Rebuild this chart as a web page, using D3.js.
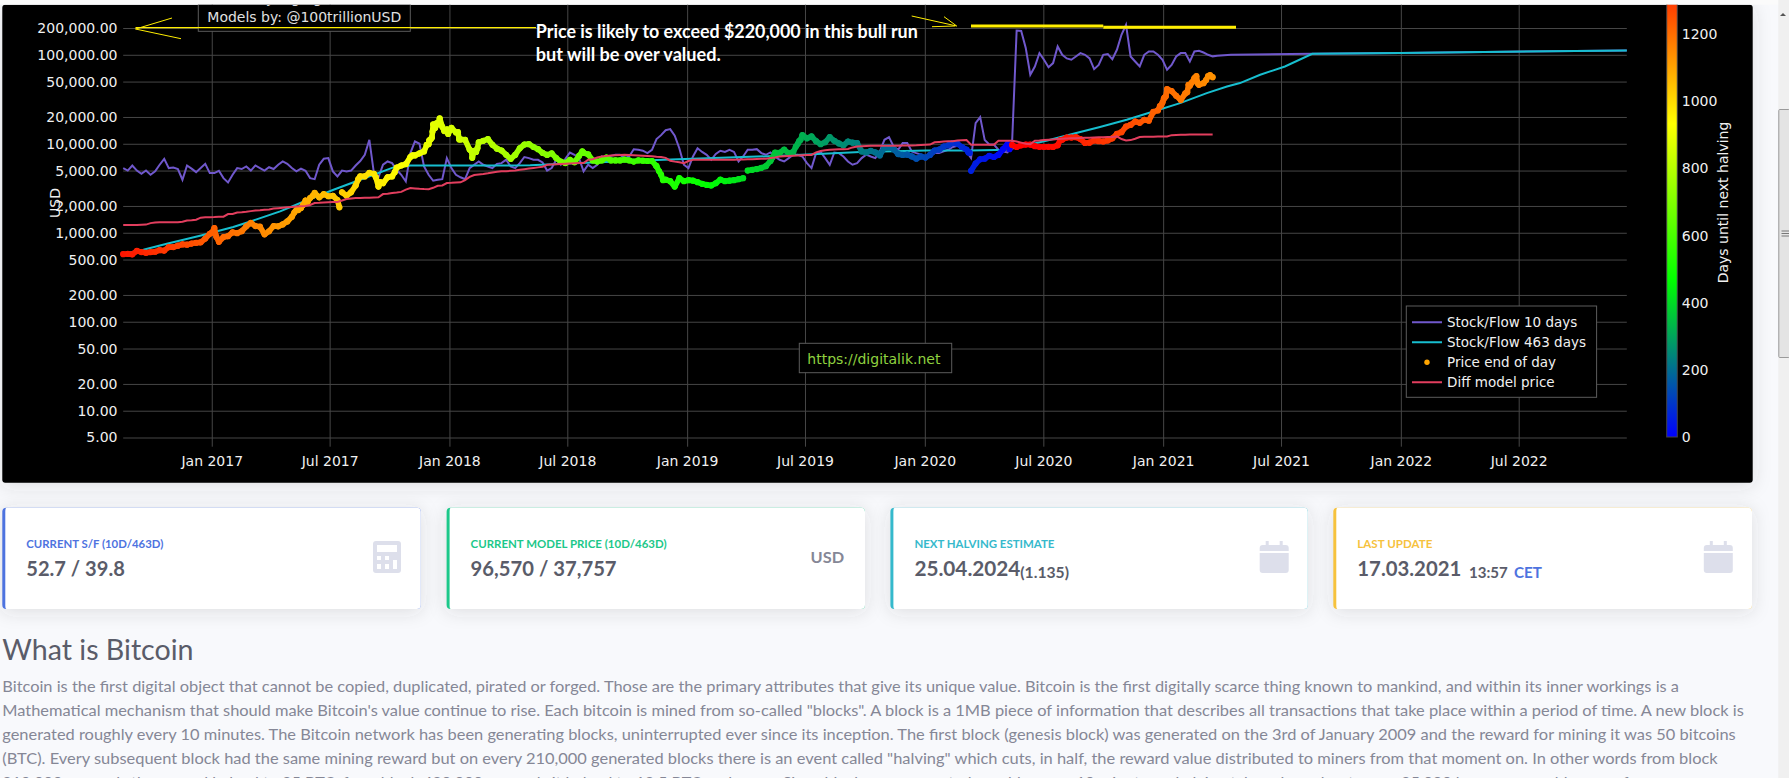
<!DOCTYPE html>
<html>
<head>
<meta charset="utf-8">
<script src="https://cdn.jsdelivr.net/npm/d3@7"></script>
<style>
html, body { margin: 0; padding: 0; background: #f8f9fc; overflow: hidden; }
svg { display: block; }
.chart-axis text { font-family: "DejaVu Sans", sans-serif; font-size: 14px; fill: #f0f0f0; }
.grid line { stroke: #464646; stroke-width: 1px; }
.grid .domain { display: none; }
.page-text { font-family: Lato, "Noto Sans", sans-serif; }
</style>
</head>
<body>
<div id="chart"></div>
<script>
// weekly samples, first one is this date
const weekStart = "2016-08-18";

// price end of day, one value per week (USD)
const priceValues = [
  575, 578, 572, 625, 606, 595, 605, 612, 637, 630,
  690, 690, 715, 740, 735, 755, 770, 780, 860, 975,
  1130, 790, 895, 915, 1010, 990, 1040, 1180, 1290, 1190,
  1170, 960, 1040, 1190, 1180, 1240, 1340, 1510, 1800, 1900,
  2300, 2450, 2800, 2500, 2710, 2570, 2600, 2330, 2850, 2600,
  2850, 3400, 4300, 4300, 4700, 4600, 3300, 3600, 4200, 4300,
  5400, 5700, 5900, 7100, 7400, 7800, 8200, 9900, 16500, 16500,
  15500, 14500, 15100, 13400, 11200, 11100, 8600, 8300, 10400, 10800,
  11300, 9745, 8800, 8400, 7520, 6750, 7500, 8900, 9800, 9900,
  9200, 8700, 7900, 7500, 7800, 6900, 6300, 6060, 6600, 6200,
  7300, 7900, 7600, 6500, 6300, 6500, 7000, 6500, 6500, 6500,
  6650, 6500, 6300, 6500, 6450, 6400, 6400, 5600, 4500, 3950,
  3800, 3300, 4100, 3800, 3900, 3850, 3700, 3550, 3450, 3400,
  3600, 3950, 3800, 3850, 3900, 4000, 4100, 5000, 5100, 5200,
  5350, 5600, 6400, 7950, 7900, 8600, 7800, 8100, 10000, 12500,
  11500, 12100, 10700, 9900, 10400, 11900, 10800, 10100, 9600, 10600,
  10300, 10200, 8200, 8000, 8300, 8000, 7400, 9100, 9200, 8700,
  7650, 7500, 7550, 7200, 6800, 7200, 7000, 7500, 8400, 8600,
  9300, 9600, 10200, 10000, 9200, 8600, 4970, 6000, 6700, 6800,
  7300, 7100, 7500, 8650, 9900, 9700, 9200, 9600, 9800, 9800,
  9400, 9250, 9230, 9250, 9200, 9600, 11100, 11750, 11750, 11850,
  11300, 10200, 10300, 10900, 10700, 10600, 10900, 11500, 12900, 13500,
  15600, 16300, 17800, 17200, 18600, 18200, 22800, 23700, 29000, 41100,
  39100, 34600, 31000, 36800, 44800, 54700, 46000, 48000, 57500, 56000
];

// extra closes where the price moves faster than a week of dots can follow
const priceExtraDates = [
  "2017-01-01", "2017-01-08", "2017-05-08", "2017-05-14", "2017-05-21", "2017-05-28", "2017-06-05",
  "2017-07-16", "2017-08-14", "2017-09-10", "2017-09-17", "2017-10-09", "2017-11-05", "2017-11-27",
  "2017-12-01", "2017-12-03", "2017-12-05", "2017-12-06", "2017-12-10", "2017-12-12", "2017-12-17",
  "2017-12-24", "2017-12-30", "2018-01-14", "2018-01-16", "2018-02-04", "2018-02-05", "2018-02-11",
  "2018-02-13", "2018-07-24", "2018-11-14", "2018-11-19", "2018-11-25", "2019-05-12", "2019-06-17",
  "2019-06-22", "2019-06-24", "2020-03-08", "2020-03-10", "2020-05-10", "2020-07-27", "2020-12-27",
  "2020-12-29", "2021-01-02", "2021-01-03", "2021-01-05", "2021-02-07", "2021-02-09", "2021-02-14",
  "2021-02-21", "2021-02-23", "2021-03-08", "2021-03-14"
];
const priceExtraValues = [
  1000, 900, 1700, 1800, 2050, 2200, 2600,
  1930, 4000, 4200, 3700, 4800, 7400, 9700,
  10900, 11200, 11700, 13700, 15000, 17000, 19300,
  13900, 12900, 13500, 11200, 8200, 6950, 8100,
  8900, 8200, 5700, 4900, 3900, 7000, 9300,
  10700, 11000, 8000, 7900, 8700, 11000, 26500,
  27000, 32000, 33000, 34000, 38000, 46000, 48700,
  57500, 48000, 52000, 59000
];
// the price dots are not joined across these jumps
const priceBreaks = ["2017-07-20", "2019-04-04", "2020-03-12"];

// stock/flow 10 days, same weekly samples
const sf10Values = [
  5330, 5000, 5700, 5000, 4600, 5000, 4480, 4890, 5810, 6780,
  5330, 5400, 5200, 3940, 5700, 5250, 4800, 5330, 5950, 4680,
  4680, 4970, 4110, 3680, 4480, 5330, 5200, 5560, 5000, 5700,
  5330, 5000, 5450, 5200, 5810, 6330, 5950, 5330, 4890, 5250,
  4970, 4110, 4000, 5810, 6780, 6900, 4890, 4290, 5000, 4890,
  5000, 5700, 6400, 7520, 11090, 4680, 4200, 5810, 6330, 6060,
  5100, 4480, 3770, 7850, 10650, 10000, 5560, 4480, 3840, 3940,
  4000, 6900, 5330, 4480, 4200, 4000, 5330, 5810, 6330, 5810,
  5560, 5330, 5950, 6060, 6610, 5560, 5330, 6060, 7100, 6900,
  6610, 6610, 6170, 5000, 5330, 6610, 5810, 6780, 7980, 7520,
  6900, 4890, 5810, 5330, 5810, 7200, 6900, 7320, 7520, 7520,
  6900, 7200, 8680, 8560, 8350, 7850, 8560, 11300, 12500, 14200,
  14600, 12300, 8900, 5810, 5330, 7200, 8900, 8100, 7500, 6610,
  7700, 8350, 8100, 8560, 8100, 6330, 7200, 8560, 8560, 8700,
  7850, 7520, 8000, 7200, 6610, 6330, 6900, 7520, 7520, 7200,
  6060, 5330, 7850, 8100, 6900, 5810, 7980, 7850, 7200, 6330,
  5810, 6060, 6900, 7550, 7200, 6900, 8200, 11090, 11900, 9330,
  8570, 10180, 10180, 8200, 7850, 7550, 6900, 7200, 7850, 7850,
  8200, 8570, 9200, 9500, 9200, 8200, 6900, 17100, 19900, 11000,
  9800, 9800, 8570, 8200, 8000, 10180, 187000, 185000, 119000, 59600,
  73900, 104400, 87900, 72600, 80600, 124000, 100000, 91000, 87900, 95700,
  104400, 100000, 91000, 69000, 77000, 100000, 102000, 89000, 113800, 168000,
  217000, 95700, 84000, 73900, 100000, 109000, 109000, 100000, 87900, 67800,
  77000, 95700, 104400, 104400, 84000, 109000, 111000, 106000, 100000, 96000,
  97500
];
// the forecast part of the 10 day model
const sf10TailDates = ["2021-04-15", "2021-08-18", "2021-12-31", "2022-12-14"];
const sf10TailValues = [100000, 102600, 105000, 111700];

// stock/flow 463 days
const sf463Dates = [
  "2016-08-18", "2016-09-18", "2016-10-24", "2016-12-14", "2017-02-03", "2017-03-06", "2017-04-16",
  "2017-05-17", "2017-07-07", "2017-08-17", "2017-10-07", "2017-11-02", "2018-03-20", "2018-05-05",
  "2018-07-21", "2018-11-26", "2019-05-24", "2019-09-24", "2020-01-04", "2020-03-11", "2020-05-06",
  "2020-07-07", "2020-08-16", "2020-09-26", "2020-11-06", "2020-12-17", "2021-01-27", "2021-03-09",
  "2021-04-09", "2021-04-29", "2021-05-30", "2021-07-07", "2021-08-18", "2021-12-31", "2022-12-14"
];
const sf463Values = [
  582, 645, 752, 925, 1159, 1374, 1737,
  2157, 3040, 3940, 5420, 5700, 5700, 5720,
  6070, 6610, 7330, 8070, 8410, 8410, 8560,
  10890, 12950, 15400, 18600, 23060, 28650, 37100,
  44000, 48100, 59600, 73900, 102600, 105000, 111700
];

// diff model price, same weekly samples
const diffValues = [
  1220, 1220, 1220, 1225, 1230, 1235, 1283, 1300, 1316, 1316,
  1316, 1316, 1316, 1330, 1375, 1385, 1400, 1478, 1490, 1495,
  1500, 1510, 1515, 1620, 1625, 1690, 1700, 1720, 1750, 1775,
  1790, 1810, 1830, 1870, 1890, 1910, 1930, 1950, 1970, 1990,
  2000, 2050, 2157, 2170, 2190, 2200, 2210, 2220, 2300, 2390,
  2420, 2450, 2460, 2470, 2480, 2490, 2500, 2720, 2750, 2790,
  2830, 2880, 3050, 3180, 3150, 3120, 3100, 3090, 3200, 3370,
  3400, 3620, 3640, 3680, 3690, 3900, 4240, 4460, 4520, 4580,
  4660, 4760, 4850, 4900, 4920, 4960, 5000, 5100, 5180, 5260,
  5340, 5430, 5530, 5810, 5850, 5880, 5920, 5960, 6000, 6030,
  6060, 6060, 6610, 6700, 7000, 7200, 7300, 7380, 7450, 7480,
  7520, 7500, 7450, 7400, 7350, 7300, 7250, 7150, 7100, 6950,
  6450, 6300, 6200, 6060, 6400, 6610, 6610, 6610, 6610, 6610,
  6610, 6620, 6630, 6630, 6630, 6640, 6660, 6700, 6720, 6750,
  6780, 6800, 6900, 7000, 7200, 7250, 7300, 7350, 7400, 7450,
  7470, 7500, 8000, 8300, 8450, 8560, 8600, 8650, 8680, 8720,
  9100, 9300, 9400, 9450, 9500, 9500, 9500, 9500, 9500, 9500,
  9520, 9540, 9560, 9580, 9600, 9700, 9750, 9800, 10400, 10500,
  10600, 10650, 10700, 10900, 10950, 11000, 9750, 9750, 9750, 9750,
  9750, 9760, 10800, 10800, 10800, 10800, 10600, 10300, 10000, 9900,
  10800, 10850, 11000, 11100, 11200, 11300, 11400, 11450, 11500, 11550,
  11600, 11650, 11700, 11750, 11800, 11850, 11900, 11950, 12100, 11300,
  10900, 11000, 11400, 11900, 12000, 12000, 12000, 12050, 12050, 12100,
  12500, 12550, 12600, 12650, 12700, 12750, 12750, 12750, 12700, 12700
];

const halvingDates = ["2016-07-09", "2020-05-11", "2024-04-25"];

const yTicks = [5, 10, 20, 50, 100, 200, 500, 1000, 2000, 5000, 10000, 20000, 50000, 100000, 200000];
const xTicks = ["2017-01-01", "2017-07-01", "2018-01-01", "2018-07-01", "2019-01-01", "2019-07-01",
  "2020-01-01", "2020-07-01", "2021-01-01", "2021-07-01", "2022-01-01", "2022-07-01"];
const colorbarTicks = [0, 200, 400, 600, 800, 1000, 1200];
const colorStops = [0, 466, 933, 1400];
const colorRange = ["#0000ff", "#00ff00", "#ffff00", "#ff0000"];

const legendLabels = ["Stock/Flow 10 days", "Stock/Flow 463 days", "Price end of day", "Diff model price"];
const SF10_COLOR = "#7058cc", SF463_COLOR = "#17becf", DIFF_COLOR = "#e23e5e", PRICE_COLOR = "#ffa500";

const W = 1789, H = 778;
const parse = d3.utcParse("%Y-%m-%d");

var svg = d3.select("#chart").append("svg").attr("width", W).attr("height", H);
var defs = svg.append("defs");

// page background shadows
var shadow = defs.append("filter").attr("id", "cardShadow")
  .attr("x", "-10%").attr("y", "-20%").attr("width", "120%").attr("height", "150%");
shadow.append("feDropShadow").attr("dx", 0).attr("dy", 2.4).attr("stdDeviation", 9)
  .attr("flood-color", "#3a3b45").attr("flood-opacity", 0.15);

svg.append("rect").attr("x", 2.3).attr("y", 4.7).attr("width", 1750.4).attr("height", 478)
  .attr("rx", 3).attr("fill", "#000").attr("filter", "url(#cardShadow)");
// strip of the page above the chart that the screenshot keeps
svg.append("rect").attr("width", W).attr("height", 4.7).attr("fill", "#fbfbfb");

defs.append("clipPath").attr("id", "panelClip").append("rect")
  .attr("x", 2.3).attr("y", 4.7).attr("width", 1750.4).attr("height", 478);

var chart = svg.append("g").attr("clip-path", "url(#panelClip)");

var x = d3.scaleUtc().domain([parse("2016-08-18"), parse("2022-12-14")]).range([123.2, 1626.8]);
var y = d3.scaleLog().domain([5, 200000]).range([437.5, 28]);

var weekDate = i => d3.utcDay.offset(parse(weekStart), 7 * i);

// gridlines and tick labels come from the axes
chart.append("g").attr("class", "grid chart-axis")
  .attr("transform", "translate(0,446.7)")
  .call(d3.axisBottom(x).tickValues(xTicks.map(parse)).tickFormat(d3.utcFormat("%b %Y"))
    .tickSizeInner(-446.7).tickSizeOuter(0).tickPadding(9));

chart.append("g").attr("class", "grid chart-axis")
  .attr("transform", "translate(123.2,0)")
  .call(d3.axisLeft(y).tickValues(yTicks).tickFormat(d3.format(",.2f"))
    .tickSizeInner(-(1626.8 - 123.2)).tickSizeOuter(0).tickPadding(5.7));

chart.append("text").attr("class", "page-axis-title")
  .attr("transform", "translate(55.5,203) rotate(-90)")
  .attr("dy", "0.35em").attr("text-anchor", "middle")
  .style("font-family", "DejaVu Sans").style("font-size", "14px").attr("fill", "#f0f0f0")
  .text("USD");

// series
var line = d3.line().x(d => x(d[0])).y(d => y(d[1]));
var sf10Points = sf10Values.map((v, i) => [weekDate(i), v])
  .concat(sf10TailDates.map((d, i) => [parse(d), sf10TailValues[i]]));
var sf463Points = sf463Dates.map((d, i) => [parse(d), sf463Values[i]]);
var diffPoints = diffValues.map((v, i) => [weekDate(i), v]);
var pricePoints = priceValues.map((v, i) => [weekDate(i), v])
  .concat(priceExtraDates.map((d, i) => [parse(d), priceExtraValues[i]]))
  .sort((a, b) => a[0] - b[0]);

chart.append("path").attr("d", line(sf10Points))
  .attr("fill", "none").attr("stroke", SF10_COLOR).attr("stroke-width", 2);
chart.append("path").attr("d", line(sf463Points))
  .attr("fill", "none").attr("stroke", SF463_COLOR).attr("stroke-width", 2);

// dot colour is the number of days until the next halving
var halvings = halvingDates.map(parse);
var daysLeft = d => {
  var next = halvings[d3.bisectLeft(halvings, d)];
  return d3.utcDay.count(d, next);
};
var color = d3.scaleLinear().domain(colorStops).range(colorRange);

// the source has a dot for every day, which reads as a thick band: join the samples
var breakTimes = priceBreaks.map(d => +parse(d));
var priceLinks = d3.pairs(pricePoints).filter(p => !breakTimes.includes(+p[1][0]));

chart.append("g").selectAll("line")
  .data(priceLinks)
  .enter().append("line")
  .attr("x1", d => x(d[0][0])).attr("y1", d => y(d[0][1]))
  .attr("x2", d => x(d[1][0])).attr("y2", d => y(d[1][1]))
  .attr("stroke", d => color(daysLeft(d[1][0])))
  .attr("stroke-width", 5.6)
  .attr("stroke-linecap", "round");

chart.append("g").selectAll("circle")
  .data(pricePoints)
  .enter().append("circle")
  .attr("cx", d => x(d[0]))
  .attr("cy", d => y(d[1]))
  .attr("r", 3.1)
  .attr("fill", d => color(daysLeft(d[0])));

chart.append("path").attr("d", line(diffPoints))
  .attr("fill", "none").attr("stroke", DIFF_COLOR).attr("stroke-width", 2);

// colorbar
var cbTop = colorStops[colorStops.length - 1];
var cb = d3.scaleLinear().domain([0, cbTop]).range([437, 437 - cbTop * 0.3358]);
var gradient = defs.append("linearGradient").attr("id", "daysGradient")
  .attr("x1", 0).attr("x2", 0).attr("y1", 1).attr("y2", 0);
colorStops.forEach((s, i) => {
  gradient.append("stop").attr("offset", s / cbTop).attr("stop-color", colorRange[i]);
});
chart.append("rect").attr("x", 1666.7).attr("y", cb(cbTop)).attr("width", 10.6).attr("height", cb(0) - cb(cbTop))
  .attr("fill", "url(#daysGradient)").attr("stroke", "#444");
var cbAxis = chart.append("g").attr("class", "chart-axis")
  .attr("transform", "translate(1677.3,0)")
  .call(d3.axisRight(cb).tickValues(colorbarTicks).tickFormat(d3.format("d")).tickSize(0).tickPadding(4.5));
cbAxis.select(".domain").remove();
chart.append("text").attr("transform", "translate(1723,202.5) rotate(-90)")
  .attr("dy", "0.35em").attr("text-anchor", "middle")
  .style("font-family", "DejaVu Sans").style("font-size", "14px").attr("fill", "#f0f0f0")
  .text("Days until next halving");

// legend
var legend = chart.append("g").attr("transform", "translate(1406.3,306)");
legend.append("rect").attr("width", 190.3).attr("height", 91.3).attr("fill", "#000").attr("stroke", "#5c5c5c");
var legendColors = [SF10_COLOR, SF463_COLOR, null, DIFF_COLOR];
legendLabels.forEach((label, i) => {
  var rowY = 16.3 + i * 20;
  if (legendColors[i]) {
    legend.append("line").attr("x1", 5.7).attr("x2", 35.7).attr("y1", rowY).attr("y2", rowY)
      .attr("stroke", legendColors[i]).attr("stroke-width", 2);
  } else {
    legend.append("circle").attr("cx", 20.7).attr("cy", rowY).attr("r", 2.7).attr("fill", PRICE_COLOR);
  }
  legend.append("text").attr("x", 40.7).attr("y", rowY).attr("dy", "0.35em")
    .style("font-family", "DejaVu Sans").style("font-size", "13.5px").attr("fill", "#f0f0f0")
    .text(label);
});

// credit boxes over the plot
chart.append("rect").attr("x", 198.3).attr("y", -20).attr("width", 212).attr("height", 51.3)
  .attr("fill", "#000").attr("stroke", "#5c5c5c");
// a line above is cut off by the top of the shot, only the descenders show
[["y", 266], ["g", 291], ["g", 313]].forEach(d => {
  chart.append("text").attr("x", d[1]).attr("y", 3)
    .style("font-family", "DejaVu Sans").style("font-size", "14px").attr("fill", "#e0e0e0").text(d[0]);
});
chart.append("text").attr("x", 207.3).attr("y", 16.7).attr("dy", "0.35em")
  .style("font-family", "DejaVu Sans").style("font-size", "14px").attr("fill", "#e0e0e0")
  .text("Models by: @100trillionUSD");

chart.append("rect").attr("x", 799.3).attr("y", 343.3).attr("width", 152.4).attr("height", 29.4)
  .attr("fill", "#000").attr("stroke", "#5c5c5c");
chart.append("text").attr("x", 807.3).attr("y", 359.3).attr("dy", "0.35em")
  .style("font-family", "DejaVu Sans").style("font-size", "14px").attr("fill", "#8fd13f")
  .text("https://digitalik.net");

// hand drawn yellow notes
var strokes = [
  [135.5, 29, 172, 18, 1], [135.5, 29, 181, 38.7, 1], [135.5, 27.6, 536, 27.6, 1.4],
  [911.7, 16, 956.7, 26, 1], [944, 16.7, 956.7, 26, 1], [932, 26.7, 955, 26, 1],
  [971, 26, 1103.3, 26, 3], [1103.3, 27.3, 1236, 27.3, 3]
];
chart.append("g").selectAll("line").data(strokes).enter().append("line")
  .attr("x1", d => d[0]).attr("y1", d => d[1]).attr("x2", d => d[2]).attr("y2", d => d[3])
  .attr("stroke", "#ffee00").attr("stroke-width", d => d[4]);

var note = [["Price is likely to exceed $220,000 in this bull run", 32, 382], ["but will be over valued.", 55, 185]];
note.forEach(d => {
  chart.append("text").attr("x", 535.8).attr("y", d[1]).attr("dy", "0.35em")
    .attr("textLength", d[2]).attr("lengthAdjust", "spacingAndGlyphs")
    .style("font-family", "Lato").style("font-weight", 700).style("font-size", "18px").attr("fill", "#fff")
    .text(d[0]);
});

// scrollbar of the window
svg.append("rect").attr("x", 1778.3).attr("y", 0).attr("width", 10.7).attr("height", H).attr("fill", "#f0f0f0");
svg.append("rect").attr("x", 1778.8).attr("y", 109.5).attr("width", 11).attr("height", 248)
  .attr("rx", 1).attr("fill", "#e4e4e4").attr("stroke", "#9a9a9a");
svg.append("path").attr("d", "M1783 13 l3 3 h-6 z").attr("fill", "#555");
[231, 233.5, 236].forEach(gy => {
  svg.append("line").attr("x1", 1781.5).attr("x2", 1789).attr("y1", gy).attr("y2", gy).attr("stroke", "#777");
});

// info cards
const cardLabels = ["CURRENT S/F (10D/463D)", "CURRENT MODEL PRICE (10D/463D)", "NEXT HALVING ESTIMATE", "LAST UPDATE"];
const cardValues = ["52.7 / 39.8", "96,570 / 37,757", "25.04.2024", "17.03.2021"];
const cardColors = ["#4e73df", "#1cc88a", "#36b9cc", "#f6c23e"];
const cardLeft = [2.3, 446.6, 890.4, 1333.3];
const cardRight = [420.8, 865, 1307.8, 1752];
const labelWidths = [137, 196, 140, 75];
const valueWidths = [98.5, 146, 106, 104];

function pageText(px, py, str, size, weight, fill, width) {
  var t = svg.append("text").attr("class", "page-text").attr("x", px).attr("y", py)
    .style("font-size", size + "px").style("font-weight", weight).attr("fill", fill).text(str);
  if (width) t.attr("textLength", width).attr("lengthAdjust", "spacingAndGlyphs");
  return t;
}

cardLabels.forEach((label, i) => {
  var left = cardLeft[i], w = cardRight[i] - left;
  svg.append("rect").attr("x", left).attr("y", 507.7).attr("width", w).attr("height", 101.3)
    .attr("rx", 4).attr("fill", cardColors[i]).attr("filter", "url(#cardShadow)");
  svg.append("path")
    .attr("d", `M${left + 4} 507.7 H${left + w - 4} a4 4 0 0 1 4 4 V605 a4 4 0 0 1 -4 4 H${left + 4} q-1 0 -1 -3 V511 q0 -3 1 -3 z`)
    .attr("fill", "#fff");
  pageText(left + 24, 548, label, 11.5, 700, cardColors[i], labelWidths[i]);
  pageText(left + 24, 576, cardValues[i], 20, 700, "#5a5c69", valueWidths[i]);
});

pageText(1020.3, 578, "(1.135)", 15.5, 700, "#5a5c69", 48.7);
pageText(1469, 578, "13:57", 15, 700, "#5a5c69", 38.8);
pageText(1514, 578, "CET", 15, 700, "#4e73df", 28);
pageText(810.6, 563, "USD", 15.5, 700, "#858796", 33.5);

// calculator icon
var icon = svg.append("g").attr("fill", "#dddfeb");
icon.append("path").attr("fill-rule", "evenodd")
  .attr("d", "M376 541 h22 a3 3 0 0 1 3 3 v26 a3 3 0 0 1 -3 3 h-22 a3 3 0 0 1 -3 -3 v-26 a3 3 0 0 1 3 -3 z " +
    "M377 545 v7 h20 v-7 z M377 556 v4 h4 v-4 z M385 556 v4 h4 v-4 z M393 556 v4 h4 v-4 z " +
    "M377 564 v5 h4 v-5 z M385 564 v5 h4 v-5 z M393 556 v13 h4 v-13 z");
// calendar icons
[1259.7, 1703.8].forEach(cx => {
  var g = svg.append("g").attr("fill", "#dddfeb");
  g.append("rect").attr("x", cx + 6).attr("y", 541).attr("width", 3).attr("height", 6);
  g.append("rect").attr("x", cx + 20).attr("y", 541).attr("width", 3).attr("height", 6);
  g.append("path").attr("d", `M${cx + 3} 545 h23 a3 3 0 0 1 3 3 v3 h-29 v-3 a3 3 0 0 1 3 -3 z`);
  g.append("path").attr("d", `M${cx} 553 h29 v17 a3 3 0 0 1 -3 3 h-23 a3 3 0 0 1 -3 -3 z`);
});

// article under the cards
pageText(2.3, 660, "What is Bitcoin", 28, 400, "#5a5c69", 191.2);

const articleLines = [
  "Bitcoin is the first digital object that cannot be copied, duplicated, pirated or forged. Those are the primary attributes that give its unique value. Bitcoin is the first digitally scarce thing known to mankind, and within its inner workings is a",
  "Mathematical mechanism that should make Bitcoin's value continue to rise. Each bitcoin is mined from so-called \"blocks\". A block is a 1MB piece of information that describes all transactions that take place within a period of time. A new block is",
  "generated roughly every 10 minutes. The Bitcoin network has been generating blocks, uninterrupted ever since its inception. The first block (genesis block) was generated on the 3rd of January 2009 and the reward for mining it was 50 bitcoins",
  "(BTC). Every subsequent block had the same mining reward but on every 210,000 generated blocks there is an event called \"halving\" which cuts, in half, the reward value distributed to miners from that moment on. In other words from block",
  "210,000 onwards the reward halved to 25 BTC, from block 420,000 onwards it halved to 12.5 BTC and so on. Since blocks are generated roughly every 10 minutes, a halving takes place about every 35,000 hours, or roughly every four"
];
const articleWidths = [1676.7, 1741.5, 1733.4, 1715.4, 1650];
articleLines.forEach((str, i) => {
  pageText(2.3, 692 + i * 24, str, 16, 400, "#858796", articleWidths[i]);
});
</script>
</body>
</html>
